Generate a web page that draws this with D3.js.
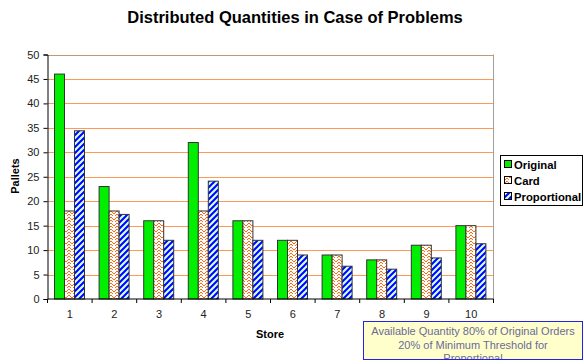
<!DOCTYPE html>
<html>
<head>
<meta charset="utf-8">
<script src="https://cdn.jsdelivr.net/npm/d3@7"></script>
<style>
  html, body { margin: 0; padding: 0; background: #fff; }
  svg { display: block; font-family: "Liberation Sans", Arial, sans-serif; }
</style>
</head>
<body>
<svg id="chart" width="584" height="364"></svg>
<script>
// Stores and distributed pallets per allocation method
const stores = ["1", "2", "3", "4", "5", "6", "7", "8", "9", "10"];
const original = [46, 23, 16, 32, 16, 12, 9, 8, 11, 15];
const card = [18, 18, 16, 18, 16, 12, 9, 8, 11, 15];
const proportional = [34.4, 17.3, 12, 24.1, 12, 9, 6.7, 6.1, 8.4, 11.3];
const seriesNames = ["Original", "Card", "Proportional"];
const yTicks = [0, 5, 10, 15, 20, 25, 30, 35, 40, 45, 50];
const noteLines = ["Available Quantity 80% of Original Orders", "20% of Minimum Threshold for", "Proportional"];

const svg = d3.select("#chart");

// Fill patterns for the three series
const defs = svg.append("defs");
const zig = defs.append("pattern").attr("id", "pat-card")
  .attr("patternUnits", "userSpaceOnUse").attr("width", 6).attr("height", 6);
zig.append("rect").attr("width", 6).attr("height", 6).attr("fill", "#fff");
zig.append("path").attr("d", "M0,4 L3,1 L6,4 M0,7 L3,4 L6,7").attr("fill", "none")
  .attr("stroke", "#ff6a10").attr("stroke-width", 1);
const diag = defs.append("pattern").attr("id", "pat-prop")
  .attr("patternUnits", "userSpaceOnUse").attr("width", 6).attr("height", 6);
diag.append("rect").attr("width", 6).attr("height", 6).attr("fill", "#ccffff");
diag.append("path").attr("d", "M-1,7 L7,-1 M-4,4 L4,-4 M2,10 L10,2").attr("fill", "none")
  .attr("stroke", "#0000ff").attr("stroke-width", 2);

const fills = ["#00ee00", "url(#pat-card)", "url(#pat-prop)"];

const plot = { left: 47.5, right: 493.5, top: 54.5, bottom: 299 };

const x = d3.scaleBand().domain(stores).range([plot.left, plot.right]).paddingInner(0).paddingOuter(0);
const xs = d3.scaleBand().domain(seriesNames).range([7, 37]);
const y = d3.scaleLinear().domain([0, 50]).range([plot.bottom, plot.top]);

// Title
svg.append("text").attr("x", 295).attr("y", 23).attr("text-anchor", "middle")
  .attr("font-size", 16.5).attr("font-weight", "bold").text("Distributed Quantities in Case of Problems");

// Gridlines
svg.append("g").selectAll("line").data(yTicks.filter(d => d > 0)).join("line")
  .attr("x1", plot.left).attr("x2", plot.right)
  .attr("y1", d => Math.round(y(d)) + 0.5).attr("y2", d => Math.round(y(d)) + 0.5)
  .attr("stroke", d => d === 50 ? "#c09878" : "#ff9a55").attr("stroke-width", 1);

// Right border of plot area
svg.append("line").attr("x1", plot.right).attr("x2", plot.right)
  .attr("y1", plot.top).attr("y2", plot.bottom).attr("stroke", "#a0a0a0");

// Bars
const series = [original, card, proportional];
series.forEach((vals, si) => {
  svg.append("g").selectAll("rect").data(vals).join("rect")
    .attr("x", (d, i) => x(stores[i]) + xs(seriesNames[si]))
    .attr("y", d => y(d))
    .attr("width", xs.bandwidth())
    .attr("height", d => y(0) - y(d))
    .attr("fill", fills[si])
    .attr("stroke", "#333").attr("stroke-width", 1);
});

// Y axis
const yAxis = d3.axisLeft(y).tickValues(yTicks).tickSize(4).tickPadding(4);
const gy = svg.append("g").attr("transform", `translate(${plot.left},0)`).call(yAxis);
gy.select(".domain").attr("stroke", "#000");
gy.selectAll("text").attr("font-size", 11).attr("fill", "#222").attr("font-family", "Liberation Sans, Arial, sans-serif");

// X axis
const xAxis = d3.axisBottom(x).tickSize(0).tickPadding(11);
const gx = svg.append("g").attr("transform", `translate(0,${plot.bottom})`).call(xAxis);
gx.select(".domain").attr("stroke", "#000").attr("d", `M${plot.left},0H${plot.right}`);
gx.selectAll("text").attr("font-size", 11).attr("fill", "#222").attr("font-family", "Liberation Sans, Arial, sans-serif");
svg.append("g").selectAll("line").data(stores.concat(["end"])).join("line")
  .attr("x1", (d, i) => plot.left + i * x.bandwidth()).attr("x2", (d, i) => plot.left + i * x.bandwidth())
  .attr("y1", plot.bottom).attr("y2", plot.bottom + 4).attr("stroke", "#000");

// Axis titles
svg.append("text").attr("x", 270).attr("y", 338).attr("text-anchor", "middle")
  .attr("font-size", 11).attr("font-weight", "bold").text("Store");
svg.append("text").attr("transform", "translate(19,176) rotate(-90)").attr("text-anchor", "middle")
  .attr("font-size", 11).attr("font-weight", "bold").text("Pallets");

// Legend
const lg = svg.append("g");
lg.append("rect").attr("x", 500.5).attr("y", 155.5).attr("width", 82).attr("height", 50)
  .attr("fill", "#fff").attr("stroke", "#000");
seriesNames.forEach((name, i) => {
  const ly = 165 + i * 16;
  lg.append("rect").attr("x", 504.5).attr("y", ly - 4.5).attr("width", 7).attr("height", 7)
    .attr("fill", fills[i]).attr("stroke", "#000");
  lg.append("text").attr("x", 514).attr("y", ly + 4).attr("font-size", 11.3).attr("font-weight", "bold").text(name);
});

// Note box
const nb = svg.append("g");
nb.append("rect").attr("x", 363.5).attr("y", 321.5).attr("width", 219).attr("height", 38)
  .attr("fill", "#ffffcc").attr("stroke", "#2222ee").attr("stroke-width", 1);
nb.append("clipPath").attr("id", "note-clip").append("rect")
  .attr("x", 364).attr("y", 322).attr("width", 218).attr("height", 37);
nb.append("g").attr("clip-path", "url(#note-clip)").selectAll("text").data(noteLines).join("text")
  .attr("x", 473).attr("y", (d, i) => 335 + i * 13.5).attr("text-anchor", "middle")
  .attr("font-size", 11).attr("fill", "#6a6a9a").text(d => d);
</script>
</body>
</html>
